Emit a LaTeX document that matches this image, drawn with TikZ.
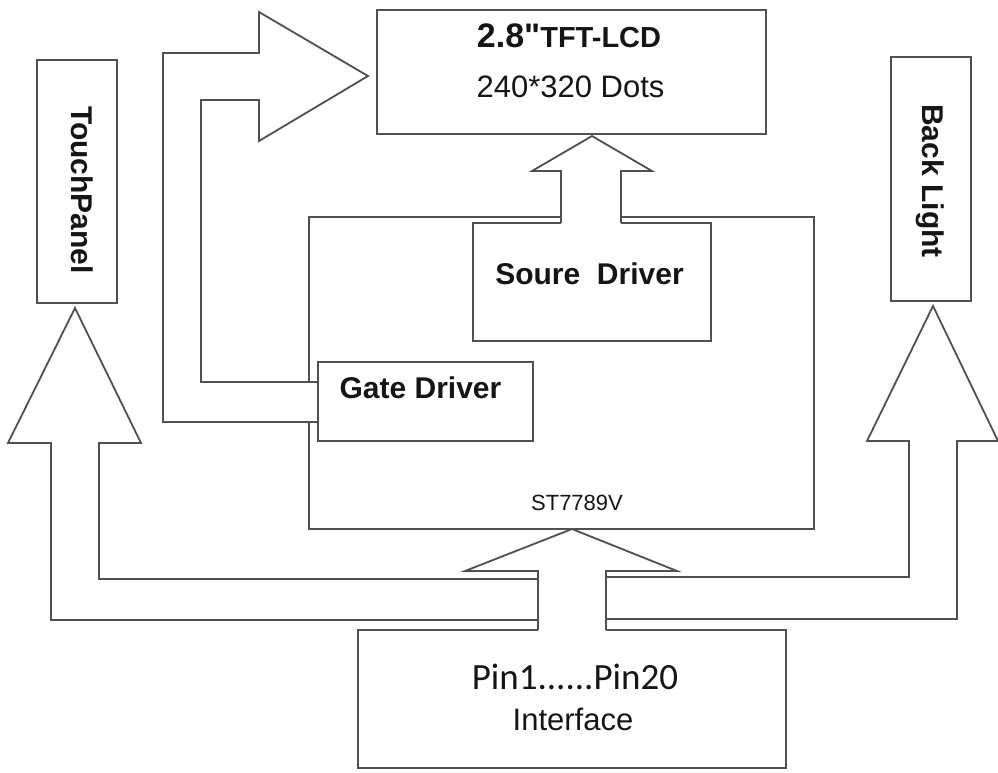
\documentclass[tikz,border=0pt]{standalone}
\usepackage{fontspec}
\setmainfont{Liberation Sans}
\newfontfamily\calfont{Carlito}
\newfontfamily\nomapfont{Liberation Sans}[Ligatures=ResetAll]
\definecolor{linegray}{HTML}{505050}
\definecolor{inkc}{HTML}{151515}
\begin{document}
\begin{tikzpicture}[x=1pt,y=-1pt,
  ln/.style={draw=linegray, line width=1.8pt},
  box/.style={ln, fill=white, inner sep=0pt, outer sep=0pt, anchor=north west},
  lbl/.style={text=inkc, inner sep=0pt, anchor=base},
  boldlbl/.style={lbl, font=\bfseries\fontsize{30}{36}\selectfont},
]
\useasboundingbox[fill=white] (0,0) rectangle (998,772);

% ST7789V chip box
\node[box, minimum width=505pt, minimum height=312pt] (st) at (309,217) {};
% Source driver box
\node[box, minimum width=238pt, minimum height=118pt] (src) at (473,223) {};

% Gate arrow (block arrow to the LCD)
\fill[white] (318,422) -- (163,422) -- (163,53) -- (259,53) -- (259,12) -- (368,76)
  -- (259,141) -- (259,100) -- (201,100) -- (201,382) -- (318,382) -- cycle;
\draw[ln] (318,422) -- (163,422) -- (163,53) -- (259,53) -- (259,12) -- (368,76)
  -- (259,141) -- (259,100) -- (201,100) -- (201,382) -- (318,382);

% Gate driver box
\node[box, minimum width=215pt, minimum height=79pt] (gate) at (318,362) {};

% LCD box
\node[box, minimum width=389pt, minimum height=124pt] (lcd) at (377,10) {};

% Source arrow (up into the LCD)
\fill[white] (561,224.5) -- (561,171) -- (532,171) -- (592,136) -- (652,171) -- (621,171) -- (621,224.5) -- cycle;
\draw[ln] (561,223) -- (561,171) -- (532,171) -- (592,136) -- (652,171) -- (621,171) -- (621,223);

% Touch panel and back light boxes
\node[box, minimum width=80pt, minimum height=243pt] (touch) at (37,60) {};
\node[box, minimum width=80pt, minimum height=244pt] (back) at (891,57) {};

% Interface box
\node[box, minimum width=428pt, minimum height=138pt] (pin) at (358,630) {};

% Central arrow (interface to chip)
\fill[white] (538,631.5) -- (538,571) -- (465,571) -- (572,529) -- (677,571) -- (606,571) -- (606,631.5) -- cycle;
\draw[ln] (538,630) -- (538,571) -- (465,571) -- (572,529) -- (677,571) -- (606,571) -- (606,630);

% Branch to touch panel
\draw[ln] (538,620) -- (51,620) -- (51,443) -- (8,443) -- (75,308) -- (141,443)
  -- (99,443) -- (99,579) -- (538,579);
% Branch to back light
\draw[ln] (606,577) -- (909,577) -- (909,441) -- (867,441) -- (933,306) -- (998,441)
  -- (957,441) -- (957,619) -- (606,619);

% Texts
\node[lbl] (lcdtitle) at (569,47) {{\nomapfont\bfseries\fontsize{34}{40}\selectfont 2.8"}{\bfseries\fontsize{29}{34}\selectfont TFT-LCD}};
\node[lbl, font=\fontsize{31}{37}\selectfont] (lcddots) at (570.5,97) {240*320 Dots};
\node[boldlbl] (srct) at (589.5,284) {Soure~~Driver};
\node[boldlbl] (gatet) at (420.5,398) {Gate Driver};
\node[lbl, font=\fontsize{22}{26}\selectfont] (stt) at (577,510) {ST7789V};
\node[boldlbl, rotate=-90] (toucht) at (71,190) {TouchPanel};
\node[boldlbl, rotate=-90] (backt) at (922,181) {Back Light};
\node[lbl, font=\calfont\fontsize{37}{44}\selectfont] (pint) at (575,689) {Pin1......Pin20};
\node[lbl, font=\fontsize{31}{37}\selectfont] (intt) at (573,730) {Interface};
\end{tikzpicture}
\end{document}
